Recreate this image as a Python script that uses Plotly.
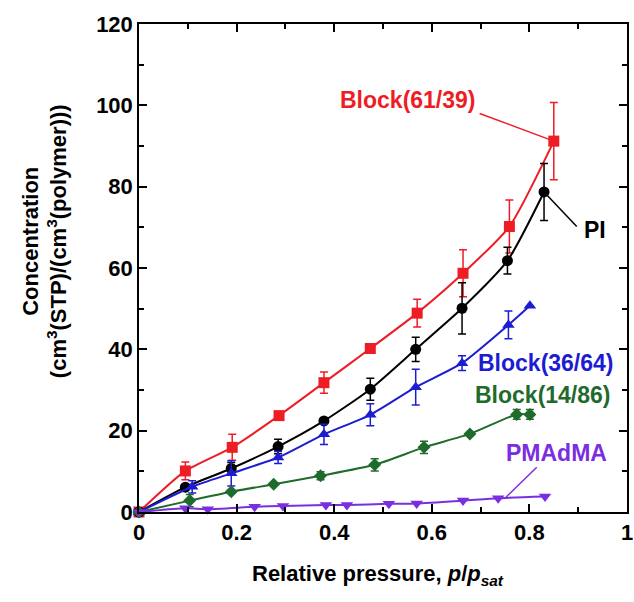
import plotly.graph_objects as go

# ---- data ----
red_x = [0, 0.095, 0.191, 0.287, 0.379, 0.474, 0.570, 0.664, 0.759, 0.850]
red_y = [0, 10.1, 15.9, 23.7, 31.8, 40.2, 48.9, 58.7, 70.2, 91.2]
red_e = [0, 2.2, 3.2, 0, 2.6, 0, 3.4, 5.8, 6.5, 9.5]

blk_x = [0, 0.095, 0.189, 0.285, 0.379, 0.474, 0.567, 0.662, 0.755, 0.830]
blk_y = [0, 6.1, 10.7, 16.1, 22.4, 30.2, 40.0, 50.1, 61.8, 78.7]
blk_e = [0, 0, 1.5, 1.8, 0, 2.7, 3.0, 6.3, 3.3, 7.0]

blu_x = [0, 0.109, 0.189, 0.285, 0.379, 0.474, 0.567, 0.662, 0.757, 0.801]
blu_y = [0, 6.2, 9.5, 13.4, 19.1, 23.9, 30.7, 36.6, 46.0, 50.7]
blu_e = [0, 1.5, 3.1, 1.5, 2.5, 2.7, 4.4, 1.8, 3.4, 0]

grn_x = [0, 0.104, 0.189, 0.276, 0.372, 0.483, 0.584, 0.678, 0.774, 0.801]
grn_y = [0, 2.8, 5.0, 6.8, 8.9, 11.6, 15.9, 19.2, 24.0, 24.0]
grn_e = [0, 1.5, 0, 0, 1.0, 1.5, 1.5, 0, 1.2, 1.2]

pur_x = [0, 0.095, 0.141, 0.237, 0.295, 0.383, 0.426, 0.512, 0.569, 0.664, 0.736, 0.832]
pur_y = [0, 0.9, 0.7, 1.3, 1.5, 1.7, 1.7, 2.0, 2.1, 2.8, 3.4, 3.8]

series_names = ["Block(61/39)", "PI", "Block(36/64)", "Block(14/86)", "PMAdMA"]
colors = ["#ee1c24", "#000000", "#1c1cd2", "#1e6b2c", "#7a2ee0"]
symbols = ["square", "circle", "triangle-up", "diamond", "triangle-down"]

# label positions (data coords) and leader lines (from, to)
label_pos = [(0.551, 101.4), (0.934, 69.3), (0.835, 36.6), (0.828, 28.8), (0.856, 14.4)]
leaders = {0: ((0.698, 98.0), (0.850, 91.2)),
           1: ((0.830, 78.7), (0.897, 70.2)),
           4: ((0.815, 11.0), (0.750, 3.4))}

data = [(red_x, red_y, red_e), (blk_x, blk_y, blk_e), (blu_x, blu_y, blu_e),
        (grn_x, grn_y, grn_e), (pur_x, pur_y, None)]

fig = go.Figure()
for i, (xs, ys, es) in enumerate(data):
    fig.add_trace(go.Scatter(
        x=xs, y=ys, mode="lines+markers", name=series_names[i],
        line=dict(color=colors[i], width=2, shape="spline", smoothing=0.6),
        marker=dict(symbol=symbols[i], size=11 if i != 3 else 10, color=colors[i]),
        error_y=dict(type="data", array=es, visible=es is not None,
                     color=colors[i], thickness=1.5, width=4),
        showlegend=False, cliponaxis=False))

for i, (lx, ly) in enumerate(label_pos):
    fig.add_annotation(x=lx, y=ly, xref="x", yref="y", text="<b>%s</b>" % series_names[i],
                       showarrow=False, font=dict(family="Liberation Sans", size=23, color=colors[i]))
for i, ((x0, y0), (x1, y1)) in leaders.items():
    fig.add_shape(type="line", x0=x0, y0=y0, x1=x1, y1=y1, xref="x", yref="y",
                  line=dict(color=colors[i], width=1.5))

axis_common = dict(showline=True, linecolor="black", linewidth=1.5, mirror="ticks",
                   ticks="inside", ticklen=8, tickwidth=1.5, tickcolor="black",
                   showgrid=False, zeroline=False, automargin=False,
                   ticklabeloverflow="allow",
                   tickfont=dict(family="Liberation Sans", size=22, color="black"))

fig.update_xaxes(range=[0, 1], tickvals=[0, 0.2, 0.4, 0.6, 0.8, 1],
                 ticktext=["<b>0</b>", "<b>0.2</b>", "<b>0.4</b>", "<b>0.6</b>", "<b>0.8</b>", "<b>1</b>"],
                 minor=dict(dtick=0.1, ticks="inside", ticklen=5, tickwidth=1.5, tickcolor="black"),
                 **axis_common)
fig.update_yaxes(range=[0, 120], tickvals=[0, 20, 40, 60, 80, 100, 120],
                 ticktext=["<b>%d</b>" % v for v in [0, 20, 40, 60, 80, 100, 120]],
                 minor=dict(dtick=10, ticks="inside", ticklen=5, tickwidth=1.5, tickcolor="black"),
                 **axis_common)

fig.add_annotation(xref="paper", yref="paper", x=-0.252, y=0.555, textangle=-90,
                   text="<b>Concentration<br>(cm<sup>3</sup>(STP)/(cm<sup>3</sup>(polymer)))</b>",
                   showarrow=False, font=dict(family="Liberation Sans", size=22, color="black"))
fig.add_annotation(xref="paper", yref="paper", x=0.49, y=-0.13, yanchor="middle",
                   text="<b>Relative pressure, <i>p</i>/<i>p</i><sub><i>sat</i></sub></b>",
                   showarrow=False, font=dict(family="Liberation Sans", size=22, color="black"))

fig.update_layout(width=634, height=602, plot_bgcolor="white", paper_bgcolor="white",
                  margin=dict(l=139, r=7, t=24, b=90))
# remove the default page margin so the figure fills the window exactly
fig.write_html("out.html", config={"displayModeBar": False},
               post_script="document.body.style.margin='0';document.body.style.overflow='hidden';")
